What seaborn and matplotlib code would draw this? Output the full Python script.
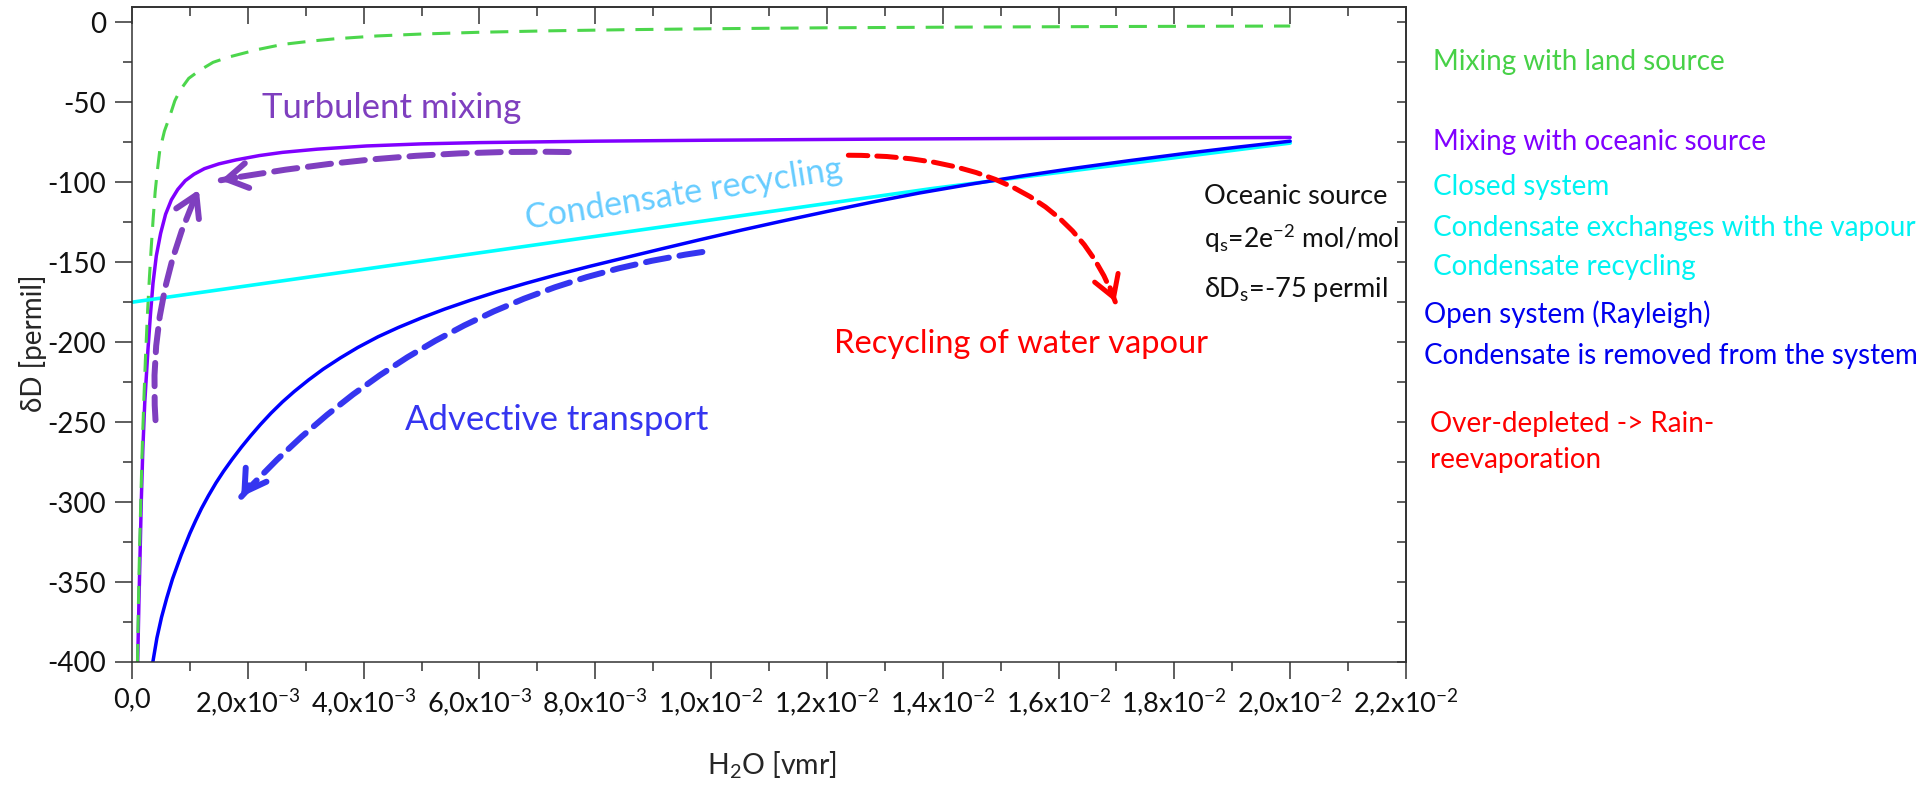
import matplotlib
matplotlib.use("Agg")
import matplotlib.pyplot as plt
import seaborn as sns
from matplotlib.ticker import MultipleLocator, FixedLocator, FixedFormatter, NullFormatter

# Curves: H2O [vmr] vs dD [permil]
land_x = [9.5e-5, 1.1e-4, 1.3e-4, 1.55e-4, 1.8e-4, 2.05e-4, 2.3e-4, 2.7e-4, 3.0e-4, 3.3e-4,
          3.65e-4, 4.0e-4, 4.4e-4, 4.8e-4, 5.6e-4, 6.5e-4, 7.4e-4, 8.3e-4, 9.8e-4, 1.17e-3,
          1.4e-3, 1.67e-3, 2.17e-3, 2.6e-3, 3.1e-3, 3.5e-3, 4.23e-3, 5.0e-3, 6.0e-3, 7.2e-3,
          8.5e-3, 1.0e-2, 1.2e-2, 1.418e-2, 1.7e-2, 2.0e-2]
land_y = [-400, -365, -330, -295, -262, -236, -212, -180, -160, -142,
          -123, -106, -92, -80, -68, -59, -49, -42.5, -35, -30,
          -25, -21.7, -17, -13.8, -11.7, -10.3, -8.5, -7.3, -6.2, -5.3,
          -4.6, -4.0, -3.4, -3.0, -2.6, -2.3]

ocean_x = [9.8e-5, 1.2e-4, 1.41e-4, 1.6e-4, 1.86e-4, 2.2e-4, 2.75e-4, 3.2e-4, 3.63e-4, 4.2e-4,
           4.94e-4, 5.8e-4, 6.8e-4, 7.9e-4, 9.2e-4, 1.07e-3, 1.25e-3, 1.5e-3, 1.8e-3, 2.2e-3,
           2.6e-3, 3.2e-3, 4.05e-3, 5.0e-3, 6.0e-3, 8.0e-3, 1.0e-2, 1.3e-2, 1.6e-2, 2.0e-2]
ocean_y = [-400, -362, -330, -300, -268, -238, -205, -182, -163, -146,
           -132, -120, -111, -104.5, -99, -95, -91.5, -88.5, -86, -83.3,
           -81.3, -79.3, -77.3, -76, -75.2, -74.3, -73.7, -73, -72.5, -72]

closed_x = [0.0, 1.38e-2, 2.0e-2]
closed_y = [-175, -104, -75.5]

rayleigh_x = [3.6e-4, 4.3e-4, 5.1e-4, 6.0e-4, 7.0e-4, 8.5e-4, 1.0e-3, 1.1e-3, 1.2e-3, 1.32e-3,
              1.45e-3, 1.58e-3, 1.73e-3, 1.89e-3, 2.05e-3, 2.22e-3, 2.4e-3, 2.6e-3, 2.8e-3, 3.05e-3,
              3.3e-3, 3.6e-3, 3.9e-3, 4.25e-3, 4.6e-3, 5.0e-3, 5.4e-3, 5.85e-3, 6.3e-3, 6.8e-3,
              7.3e-3, 7.9e-3, 8.5e-3, 9.15e-3, 9.8e-3, 1.054e-2, 1.12e-2, 1.2e-2, 1.28e-2, 1.36e-2,
              1.45e-2, 1.54e-2, 1.63e-2, 1.72e-2, 1.82e-2, 1.91e-2, 2.0e-2]
rayleigh_y = [-400, -385, -372, -360, -348, -333, -319.5, -311.5, -304, -296,
              -288, -280.8, -273.2, -265.6, -258.5, -251.4, -244.4, -237.3, -230.9, -223.6,
              -216.9, -209.8, -203.3, -196.6, -190.8, -184.8, -179.3, -173.7, -168.5, -163.2,
              -158.2, -152.6, -147.3, -141.6, -136.0, -129.8, -124.5, -118.3, -112.3, -106.7,
              -101.1, -95.9, -91.1, -86.6, -81.9, -78.0, -74.3]

x_ticks = [0.0, 0.002, 0.004, 0.006, 0.008, 0.010, 0.012, 0.014, 0.016, 0.018, 0.020, 0.022]
x_tick_labels = ["0,0", "2,0x10$^{-3}$", "4,0x10$^{-3}$", "6,0x10$^{-3}$", "8,0x10$^{-3}$",
                 "1,0x10$^{-2}$", "1,2x10$^{-2}$", "1,4x10$^{-2}$", "1,6x10$^{-2}$",
                 "1,8x10$^{-2}$", "2,0x10$^{-2}$", "2,2x10$^{-2}$"]

right_labels = ["Mixing with land source", "Mixing with oceanic source", "Closed system",
                "Condensate exchanges with the vapour", "Condensate recycling",
                "Open system (Rayleigh)", "Condensate is removed from the system",
                "Over-depleted -> Rain-", "reevaporation"]
right_colors = ["#47D147", "#8000FF", "#00F2F2", "#00F2F2", "#00F2F2",
                "#0000EE", "#0000EE", "#FF0000", "#FF0000"]
right_left = [1433, 1433, 1433, 1433, 1433, 1424, 1424, 1430, 1430]   # pixels from left
right_baselines = [70, 150, 195, 236, 275, 323, 364, 432, 468]       # pixels from top

# colours
c_land = "#4CD64C"
c_ocean = "#8000FF"
c_closed = "#00FFFF"
c_rayleigh = "#0000FF"
c_turb = "#7F3FBF"
c_adv = "#3535F0"
c_red = "#FF0000"

sns.set_theme(style="ticks")
plt.rcParams["font.family"] = ["Lato", "DejaVu Sans"]
plt.rcParams["mathtext.fontset"] = "custom"
plt.rcParams["mathtext.rm"] = "Lato"
plt.rcParams["mathtext.default"] = "regular"
plt.rcParams["axes.unicode_minus"] = False
plt.rcParams["text.color"] = "#111111"

W, H = 1920, 793
fig = plt.figure(figsize=(W / 100, H / 100), dpi=100)
ax = fig.add_axes([132 / W, 1 - 662 / H, 1274 / W, 655 / H])

# Curves
sns.lineplot(x=ocean_x, y=ocean_y, ax=ax, color=c_ocean, lw=2.5, sort=False, estimator=None)
sns.lineplot(x=land_x, y=land_y, ax=ax, color=c_land, lw=2.2, linestyle=(0, (5.9, 3.6)),
             sort=False, estimator=None)
sns.lineplot(x=closed_x, y=closed_y, ax=ax, color=c_closed, lw=2.6, sort=False, estimator=None)
sns.lineplot(x=rayleigh_x, y=rayleigh_y, ax=ax, color=c_rayleigh, lw=2.5, sort=False, estimator=None)

ax.set_xlim(0, 0.022)
ax.set_ylim(-400, 9.6)

# Axes ticks
ax.xaxis.set_major_locator(FixedLocator(x_ticks))
ax.xaxis.set_major_formatter(FixedFormatter(x_tick_labels))
ax.xaxis.set_minor_locator(MultipleLocator(0.001))
ax.yaxis.set_major_locator(MultipleLocator(50))
ax.yaxis.set_minor_locator(MultipleLocator(25))
ax.tick_params(which="major", direction="out", length=12.5, width=1.1, color="#333333",
               labelsize=20, labelcolor="#111111", pad=6)
ax.tick_params(axis="x", which="major", labelsize=19.5)
ax.tick_params(which="minor", direction="out", length=6.5, width=1.1, color="#333333")
for sp in ax.spines.values():
    sp.set_color("#333333")
    sp.set_linewidth(1.1)

top = ax.secondary_xaxis("top")
top.xaxis.set_major_locator(FixedLocator(x_ticks))
top.xaxis.set_minor_locator(MultipleLocator(0.001))
top.xaxis.set_major_formatter(NullFormatter())
top.tick_params(which="major", direction="in", length=12.5, width=1.1, color="#333333")
top.tick_params(which="minor", direction="in", length=6.5, width=1.1, color="#333333")
right = ax.secondary_yaxis("right")
right.yaxis.set_major_locator(MultipleLocator(50))
right.yaxis.set_minor_locator(MultipleLocator(25))
right.yaxis.set_major_formatter(NullFormatter())
right.tick_params(which="both", direction="in", length=6.5, width=1.1, color="#333333")

ax.set_ylabel("δD [permil]", fontsize=20)
ax.yaxis.set_label_coords(-0.0667, 0.487)
ax.set_xlabel("H$_2$O [vmr]", fontsize=20.5)
ax.xaxis.set_label_coords(0.502, -0.134)

# Dashed curved arrows: (start, tip, head back point, connection style, colour, width)
arrows = [
    ((4.06e-4, -248.8), (1.155e-3, -104.6), (1.045e-3, -113.1), "arc3,rad=-0.13", c_turb, 4.3),
    ((7.543e-3, -81.1), (1.533e-3, -98.75), (1.789e-3, -97.1), "arc3,rad=0.05", c_turb, 4.3),
    ((9.85e-3, -143.6), (1.886e-3, -296.7), (2.02e-3, -289.5), "arc3,rad=0.18", c_adv, 4.3),
    ((1.237e-2, -83.1), (1.698e-2, -174.8), (1.689e-2, -166.0), "angle3,angleA=0,angleB=110", c_red, 3.6),
]
for start, tip, back, cs, col, lw in arrows:
    ax.annotate("", xy=tip, xytext=start,
                arrowprops=dict(arrowstyle="-", connectionstyle=cs, color=col, lw=lw,
                                linestyle=(0, (3.9, 1.8)), shrinkA=0, shrinkB=0))
    ax.annotate("", xy=tip, xytext=back,
                arrowprops=dict(arrowstyle="->,head_length=0.5,head_width=0.3", color=col, lw=lw,
                                mutation_scale=30, shrinkA=0, shrinkB=0))

# In-plot annotations
ax.text(2.24e-3, -59.8, "Turbulent mixing", color=c_turb, fontsize=25)
ax.text(6.82e-3, -129.4, "Condensate recycling", color="#66CCFF", fontsize=24.5,
        rotation=9, rotation_mode="anchor", ha="left", va="baseline")
ax.text(1.212e-2, -207, "Recycling of water vapour", color=c_red, fontsize=23.5)
ax.text(4.72e-3, -255, "Advective transport", color=c_adv, fontsize=25)
ax.text(1.851e-2, -113.75, "Oceanic source", color="#111111", fontsize=19.5)
ax.text(1.851e-2, -141.4, "q$_s$=2e$^{-2}$ mol/mol", color="#111111", fontsize=19)
ax.text(1.851e-2, -171.7, "δD$_s$=-75 permil", color="#111111", fontsize=19.5)

# Right-hand side legend text
for lab, col, xl, yb in zip(right_labels, right_colors, right_left, right_baselines):
    fig.text(xl / W, 1 - yb / H, lab, color=col, fontsize=20, va="baseline", ha="left")

fig.savefig("out.png", dpi=100)
